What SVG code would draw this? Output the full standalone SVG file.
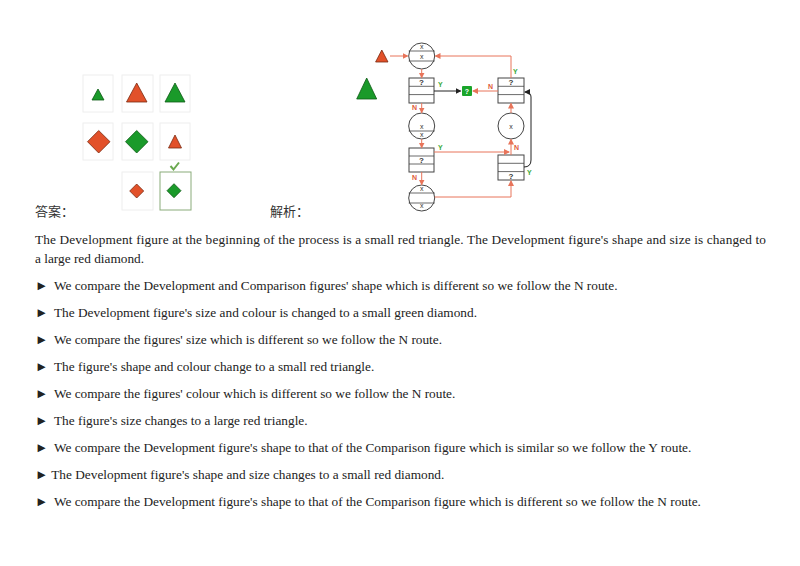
<svg xmlns="http://www.w3.org/2000/svg" width="800" height="566" viewBox="0 0 800 566">
<style>
.t{font-family:"Liberation Serif",serif;font-size:13.3px;fill:#222}
.cj{font-family:"Liberation Serif","Noto Sans CJK SC",serif;font-size:13px;fill:#333}
.cell{fill:#fff;stroke:#eee;stroke-width:1}
.nd{fill:#fff;stroke:#444;stroke-width:1}
.ln{fill:none;stroke:#444;stroke-width:0.8}
.x{font-family:"Liberation Sans",sans-serif;font-size:7px;fill:#333;text-anchor:middle}
.q{font-family:"Liberation Sans",sans-serif;font-size:8px;font-weight:bold;fill:#333;text-anchor:middle}
.rc{fill:none;stroke:#e8745a;stroke-width:1}
.bk{fill:none;stroke:#222;stroke-width:1}
.Y{font-family:"Liberation Sans",sans-serif;font-size:7px;font-weight:bold;fill:#3aaa3a}
.N{font-family:"Liberation Sans",sans-serif;font-size:7px;font-weight:bold;fill:#e05a3a}
.red{fill:#e2512a;stroke:#7a2a10;stroke-width:0.8}
.grn{fill:#1a9a2a;stroke:#0d5a14;stroke-width:0.8}
</style>
<defs>
<marker id="ar" markerWidth="6" markerHeight="6" refX="5" refY="3" orient="auto"><path d="M0,0 L6,3 L0,6 z" fill="#e8745a"/></marker>
<marker id="ab" markerWidth="6" markerHeight="6" refX="5" refY="3" orient="auto"><path d="M0,0 L6,3 L0,6 z" fill="#222"/></marker>
</defs>
<g id="puzzle">
<rect class="cell" x="83" y="75" width="30" height="37"/>
<rect class="cell" x="122" y="75" width="31" height="37"/>
<rect class="cell" x="160" y="75" width="30" height="37"/>
<rect class="cell" x="83" y="123" width="30" height="37"/>
<rect class="cell" x="122" y="123" width="31" height="37"/>
<rect class="cell" x="160" y="123" width="30" height="37"/>
<rect class="cell" x="122" y="172" width="31" height="38"/>
<rect x="160" y="172" width="31" height="38" fill="#fff" stroke="#8aab7a" stroke-width="1"/>
<polygon class="grn" points="98,89 104,100 92,100"/>
<polygon class="red" points="136.7,83 147,102 126.5,102"/>
<polygon class="grn" points="175,83 185,102 165,102"/>
<polygon class="red" points="98.7,130.5 110,141.7 98.7,153 87.5,141.7"/>
<polygon class="grn" points="136.7,130.5 148,141.7 136.7,153 125.5,141.7"/>
<polygon class="red" points="175,135 181.5,148 168.5,148"/>
<path d="M170.5,166 L173.5,169.5 L179,162.5" fill="none" stroke="#6aa84f" stroke-width="2"/>
<polygon class="red" points="136.7,184 143.7,191 136.7,198 129.7,191"/>
<polygon class="grn" points="174,183.7 181,190.7 174,197.7 167,190.7"/>
</g>
<g id="flow-shapes">
<polygon class="red" points="381.8,50 388,62 375.6,62"/>
<polygon class="grn" points="366.7,78 376.7,99 356.7,99"/>
<rect x="462" y="86" width="10" height="10" rx="1" fill="#1aa52a"/>
<text x="467" y="93.5" font-family="Liberation Sans,sans-serif" font-size="7" font-weight="bold" fill="#fff" text-anchor="middle">?</text>
</g>
<g id="c1"><circle class="nd" cx="421.7" cy="56" r="13"/><line class="ln" x1="408.7" y1="51" x2="434.7" y2="51"/><line class="ln" x1="408.7" y1="61" x2="434.7" y2="61"/><text class="x" x="421.7" y="49">x</text><text class="x" x="421.7" y="59">x</text></g>
<g id="b1"><rect class="nd" x="409" y="78" width="25" height="25"/><line class="ln" x1="409" y1="86.3" x2="434" y2="86.3"/><line class="ln" x1="409" y1="94.6" x2="434" y2="94.6"/><text class="q" x="421.5" y="85">?</text></g>
<g id="c2"><circle class="nd" cx="421.7" cy="126" r="13"/><line class="ln" x1="408.7" y1="131" x2="434.7" y2="131"/><text class="x" x="421.7" y="129">x</text><text class="x" x="421.7" y="137">x</text></g>
<g id="b2"><rect class="nd" x="409" y="148" width="25" height="24"/><line class="ln" x1="409" y1="156" x2="434" y2="156"/><line class="ln" x1="409" y1="164" x2="434" y2="164"/><text class="q" x="421.5" y="163">?</text></g>
<g id="c3"><circle class="nd" cx="421.7" cy="198" r="13"/><line class="ln" x1="408.7" y1="193" x2="434.7" y2="193"/><line class="ln" x1="408.7" y1="203" x2="434.7" y2="203"/><text class="x" x="421.7" y="191">x</text><text class="x" x="421.7" y="208">x</text></g>
<g id="b3"><rect class="nd" x="498" y="78" width="26" height="25"/><line class="ln" x1="498" y1="86.3" x2="524" y2="86.3"/><line class="ln" x1="498" y1="94.6" x2="524" y2="94.6"/><text class="q" x="511" y="85">?</text></g>
<g id="c4"><circle class="nd" cx="511" cy="126" r="13"/><text class="x" x="511" y="129">x</text></g>
<g id="b4"><rect class="nd" x="498" y="155" width="26" height="25"/><line class="ln" x1="498" y1="163.3" x2="524" y2="163.3"/><line class="ln" x1="498" y1="171.6" x2="524" y2="171.6"/><text class="q" x="511" y="179">?</text></g>
<g id="connectors">
<line class="rc" x1="390" y1="56" x2="407.5" y2="56" marker-end="url(#ar)"/>
<line class="rc" x1="421.7" y1="69" x2="421.7" y2="77.5" marker-end="url(#ar)"/>
<line class="bk" x1="434" y1="91" x2="460.5" y2="91" marker-end="url(#ab)"/>
<line class="rc" x1="421.7" y1="103" x2="421.7" y2="112.5" marker-end="url(#ar)"/>
<line class="rc" x1="421.7" y1="139" x2="421.7" y2="147.5" marker-end="url(#ar)"/>
<line class="rc" x1="434" y1="152" x2="509" y2="152" marker-end="url(#ar)"/>
<line class="rc" x1="421.7" y1="172" x2="421.7" y2="184.5" marker-end="url(#ar)"/>
<path class="rc" d="M434.7,197 H511 V181" marker-end="url(#ar)"/>
<line class="rc" x1="511" y1="155" x2="511" y2="139.5" marker-end="url(#ar)"/>
<line class="rc" x1="511" y1="113" x2="511" y2="103.5" marker-end="url(#ar)"/>
<path class="rc" d="M511,78 V56 H435.5" marker-end="url(#ar)"/>
<line class="rc" x1="498" y1="91" x2="473" y2="91" marker-end="url(#ar)"/>
<path class="bk" d="M524,167 Q531,167 531,160 V97 Q531,92 525,92" marker-end="url(#ab)"/>
<text class="Y" x="438" y="87">Y</text>
<text class="N" x="412" y="110">N</text>
<text class="Y" x="438" y="150">Y</text>
<text class="N" x="412" y="180">N</text>
<text class="N" x="514" y="150">N</text>
<text class="Y" x="527" y="175">Y</text>
<text class="Y" x="513" y="74">Y</text>
<text class="N" x="488" y="89">N</text>
</g>
<g id="text">
<text class="cj" x="35" y="216">答案：</text>
<text class="cj" x="270" y="216">解析：</text>
<text class="t" x="35" y="244" textLength="731" lengthAdjust="spacing">The Development figure at the beginning of the process is a small red triangle. The Development figure's shape and size is changed to</text>
<text class="t" x="35" y="263">a large red diamond.</text>
<text class="t" x="35" y="290">►</text><text class="t" x="54" y="290">We compare the Development and Comparison figures' shape which is different so we follow the N route.</text>
<text class="t" x="35" y="317">►</text><text class="t" x="54" y="317">The Development figure's size and colour is changed to a small green diamond.</text>
<text class="t" x="35" y="344">►</text><text class="t" x="54" y="344">We compare the figures' size which is different so we follow the N route.</text>
<text class="t" x="35" y="371">►</text><text class="t" x="54" y="371">The figure's shape and colour change to a small red triangle.</text>
<text class="t" x="35" y="398">►</text><text class="t" x="54" y="398">We compare the figures' colour which is different so we follow the N route.</text>
<text class="t" x="35" y="425">►</text><text class="t" x="54" y="425">The figure's size changes to a large red triangle.</text>
<text class="t" x="35" y="452">►</text><text class="t" x="54" y="452">We compare the Development figure's shape to that of the Comparison figure which is similar so we follow the Y route.</text>
<text class="t" x="35" y="479">► The Development figure's shape and size changes to a small red diamond.</text>
<text class="t" x="35" y="506">►</text><text class="t" x="54" y="506">We compare the Development figure's shape to that of the Comparison figure which is different so we follow the N route.</text>
</g>
</svg>
